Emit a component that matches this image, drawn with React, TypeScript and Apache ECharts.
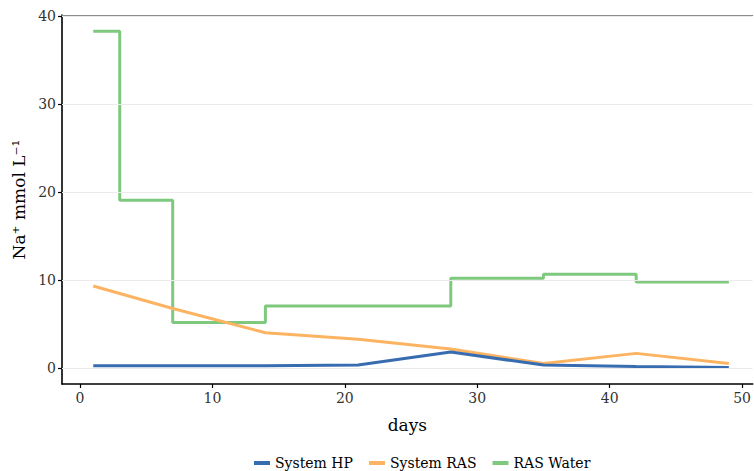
import React, { useEffect, useRef } from "react";
import * as echarts from "echarts";

const seriesNames = ["System HP", "System RAS", "RAS Water"];
const colors = ["#386cb0", "#fdb462", "#7fc97f"];
const hpDays = [1, 7, 14, 21, 28, 35, 42, 49];
const hpValues = [0.3, 0.3, 0.3, 0.37, 1.85, 0.37, 0.22, 0.1];
const rasDays = [1, 7, 14, 21, 28, 35, 42, 49];
const rasValues = [9.35, 6.8, 4.05, 3.3, 2.2, 0.55, 1.7, 0.55];
const waterDays = [1, 3, 7, 14, 28, 35, 42, 49];
const waterValues = [38.3, 19.1, 5.2, 7.08, 10.25, 10.7, 9.8, 9.8];
const xTicks = [0, 10, 20, 30, 40, 50];
const yTicks = [0, 10, 20, 30, 40];

const pair = (xs: number[], ys: number[]) => xs.map((x, i) => [x, ys[i]]);

export default function App() {
  const ref = useRef<HTMLDivElement>(null);
  useEffect(() => {
    if (!ref.current) return;
    const chart = echarts.init(ref.current, null, { renderer: "svg" });
    const font = "DejaVu Serif";
    chart.setOption({
      animation: false,
      textStyle: { fontFamily: font },
      grid: { left: 62, right: 0, top: 15, bottom: 87, containLabel: false },
      xAxis: [
        {
          type: "value",
          min: -1.36,
          max: 50.8,
          name: "days",
          nameLocation: "middle",
          nameGap: 32,
          nameTextStyle: { fontSize: 17, color: "#000", fontFamily: font },
          axisLine: { show: true, onZero: false, lineStyle: { color: "#000", width: 1.6 } },
          axisTick: { show: true, customValues: xTicks, length: 4, lineStyle: { color: "#000", width: 1.2 } },
          axisLabel: { customValues: xTicks, fontSize: 14, color: "#333", margin: 7, fontFamily: font },
          splitLine: { show: false },
        },
        {
          type: "value",
          position: "top",
          min: -1.36,
          max: 50.8,
          axisLine: { show: true, onZero: false, lineStyle: { color: "#8c8c8c", width: 1.2 } },
          axisTick: { show: false },
          axisLabel: { show: false },
          splitLine: { show: false },
        },
      ],
      yAxis: {
        type: "value",
        min: -1.78,
        max: 40.15,
        name: "Na⁺ mmol L⁻¹",
        nameLocation: "middle",
        nameGap: 34,
        nameTextStyle: { fontSize: 17, color: "#000", fontFamily: font },
        axisLine: { show: true, onZero: false, lineStyle: { color: "#000", width: 1.6 } },
        axisTick: { show: true, customValues: yTicks, length: 4, lineStyle: { color: "#000", width: 1.2 } },
        axisLabel: { customValues: yTicks, fontSize: 14, color: "#333", margin: 6, fontFamily: font },
        splitLine: { show: false },
      },
      legend: {
        top: 451,
        left: 249,
        icon: "rect",
        itemWidth: 16,
        itemHeight: 4,
        itemGap: 16,
        data: seriesNames,
        textStyle: { fontSize: 14, color: "#000", fontFamily: font },
      },
      series: [
        {
          type: "line",
          name: "_grid",
          data: [],
          silent: true,
          z: 1,
          markLine: {
            silent: true,
            symbol: ["none", "none"],
            label: { show: false },
            lineStyle: { color: "#ebebeb", width: 1.2, type: "solid" },
            data: yTicks.map((v) => ({ yAxis: v })),
          },
        },
        {
          type: "line",
          name: seriesNames[0],
          data: pair(hpDays, hpValues),
          showSymbol: false,
          symbol: "none",
          color: colors[0],
          lineStyle: { width: 3, color: colors[0] },
          z: 4,
        },
        {
          type: "line",
          name: seriesNames[1],
          data: pair(rasDays, rasValues),
          showSymbol: false,
          symbol: "none",
          color: colors[1],
          lineStyle: { width: 3, color: colors[1] },
          z: 3,
        },
        {
          type: "line",
          name: seriesNames[2],
          data: pair(waterDays, waterValues),
          step: "end",
          showSymbol: false,
          symbol: "none",
          color: colors[2],
          lineStyle: { width: 3, color: colors[2] },
          z: 2,
        },
      ],
    });
    return () => chart.dispose();
  }, []);
  return <div ref={ref} style={{ width: 754, height: 471, position: "absolute", left: 0, top: 0 }} />;
}
